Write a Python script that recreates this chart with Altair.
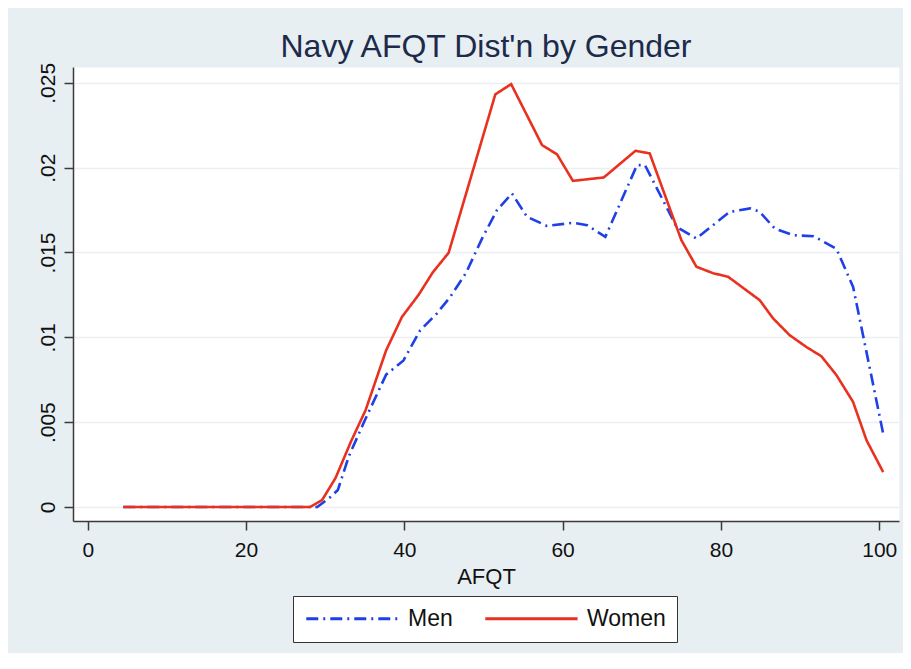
import altair as alt
import pandas as pd

# ---- data ----
men_x = [4.5, 29.0, 30.7, 31.6, 33.0, 35.0, 37.7, 39.9, 42.0, 44.1, 45.8, 47.8, 49.8,
         51.7, 53.6, 55.5, 58.0, 61.4, 63.1, 65.4, 69.4, 70.4, 74.4, 76.9, 81.1,
         83.7, 84.9, 86.8, 89.1, 91.7, 94.6, 96.7, 98.0, 100.5]
men_y = [0.0, 0.0, 0.0006, 0.0010, 0.0030, 0.0051, 0.0078, 0.00864, 0.01041, 0.01140,
         0.01238, 0.0138, 0.0158, 0.01749, 0.01848, 0.01710, 0.01657, 0.01675, 0.01661,
         0.01592, 0.02015, 0.02015, 0.01651, 0.01582, 0.01739, 0.01760, 0.01740,
         0.01641, 0.01602, 0.01596, 0.01521, 0.01297, 0.01002, 0.00433]

women_x = [4.5, 28.1, 29.6, 31.3, 33.3, 35.1, 37.7, 39.7, 41.8, 43.6, 45.6, 51.5,
           53.5, 57.4, 59.3, 61.3, 65.2, 69.2, 71.0, 75.0, 76.9, 79.0, 80.9, 84.9,
           86.6, 88.7, 90.8, 92.7, 94.6, 96.7, 98.4, 100.5]
women_y = [0.0, 0.0, 0.0004, 0.0017, 0.0039, 0.0057, 0.00923, 0.0112, 0.0125, 0.01383,
           0.01498, 0.02432, 0.02492, 0.02133, 0.02078, 0.01922, 0.01942, 0.02099,
           0.02084, 0.01573, 0.01416, 0.01378, 0.01357, 0.01219, 0.01111, 0.01012,
           0.00943, 0.00888, 0.00777, 0.00619, 0.00393, 0.00206]

series = ["Men", "Women"]
colors = ["#1e40e6", "#e8321f"]
dashes = [[12, 5, 2, 5], [1, 0]]

x_ticks = [0, 20, 40, 60, 80, 100]
y_ticks = [0, 0.005, 0.01, 0.015, 0.02, 0.025]

df = pd.concat([
    pd.DataFrame({"AFQT": men_x, "density": men_y, "gender": "Men", "order": range(len(men_x))}),
    pd.DataFrame({"AFQT": women_x, "density": women_y, "gender": "Women", "order": range(len(women_x))}),
])

FONT = "Liberation Sans"

chart = alt.Chart(df).mark_line(strokeWidth=2.6).encode(
    x=alt.X("AFQT:Q", scale=alt.Scale(domain=[-1.86, 102.5], nice=False, zero=False),
            axis=alt.Axis(values=x_ticks, title="AFQT", grid=False, labelFontSize=21,
                          titleFontSize=22, titleFontWeight="normal", labelPadding=9,
                          titlePadding=6, tickSize=9, labelFont=FONT, titleFont=FONT,
                          labelColor="#111111", titleColor="#111111", labelFlush=False)),
    y=alt.Y("density:Q", scale=alt.Scale(domain=[-0.000825, 0.02593], nice=False, zero=False),
            axis=alt.Axis(values=y_ticks, title=None, grid=True, labelAngle=270,
                          labelAlign="center", labelBaseline="alphabetic",
                          labelFontSize=21, labelPadding=10, tickSize=9, labelFont=FONT,
                          labelColor="#111111", labelFlush=False,
                          labelExpr="datum.value == 0 ? '0' : replace(format(datum.value, '~g'), '0.', '.')")),
    color=alt.Color("gender:N", scale=alt.Scale(domain=series, range=colors),
                    legend=alt.Legend(title=None, orient="none", legendX=220, legendY=529,
                                      direction="horizontal", symbolType="M-1,0H9",
                                      symbolSize=341, symbolStrokeWidth=3,
                                      labelFontSize=23, labelFont=FONT, labelColor="#111111",
                                      labelOffset=81, columnPadding=26, padding=11,
                                      strokeColor="#333333", fillColor="white")),
    strokeDash=alt.StrokeDash("gender:N", scale=alt.Scale(domain=series, range=dashes),
                              legend=None),
    order="order:Q",
).properties(
    width=826,
    height=454,
    title=alt.TitleParams("Navy AFQT Dist'n by Gender", fontSize=32, font=FONT,
                          fontWeight="normal", color="#1e2a4a", anchor="middle",
                          baseline="alphabetic", offset=10, dy=37),
    autosize=alt.AutoSizeParams(type="none"),
    padding={"left": 65, "top": 59, "right": 4, "bottom": 132},
    background="#e7eff2",
).configure_view(
    fill="white", stroke="transparent"
).configure_axis(
    domainColor="#3a3a3a", domainWidth=1.5, tickColor="#3a3a3a", tickWidth=1.5,
    gridColor="#eceff1", gridWidth=1.5
)

chart.save("out.html", embed_options={"renderer": "svg", "actions": False})
